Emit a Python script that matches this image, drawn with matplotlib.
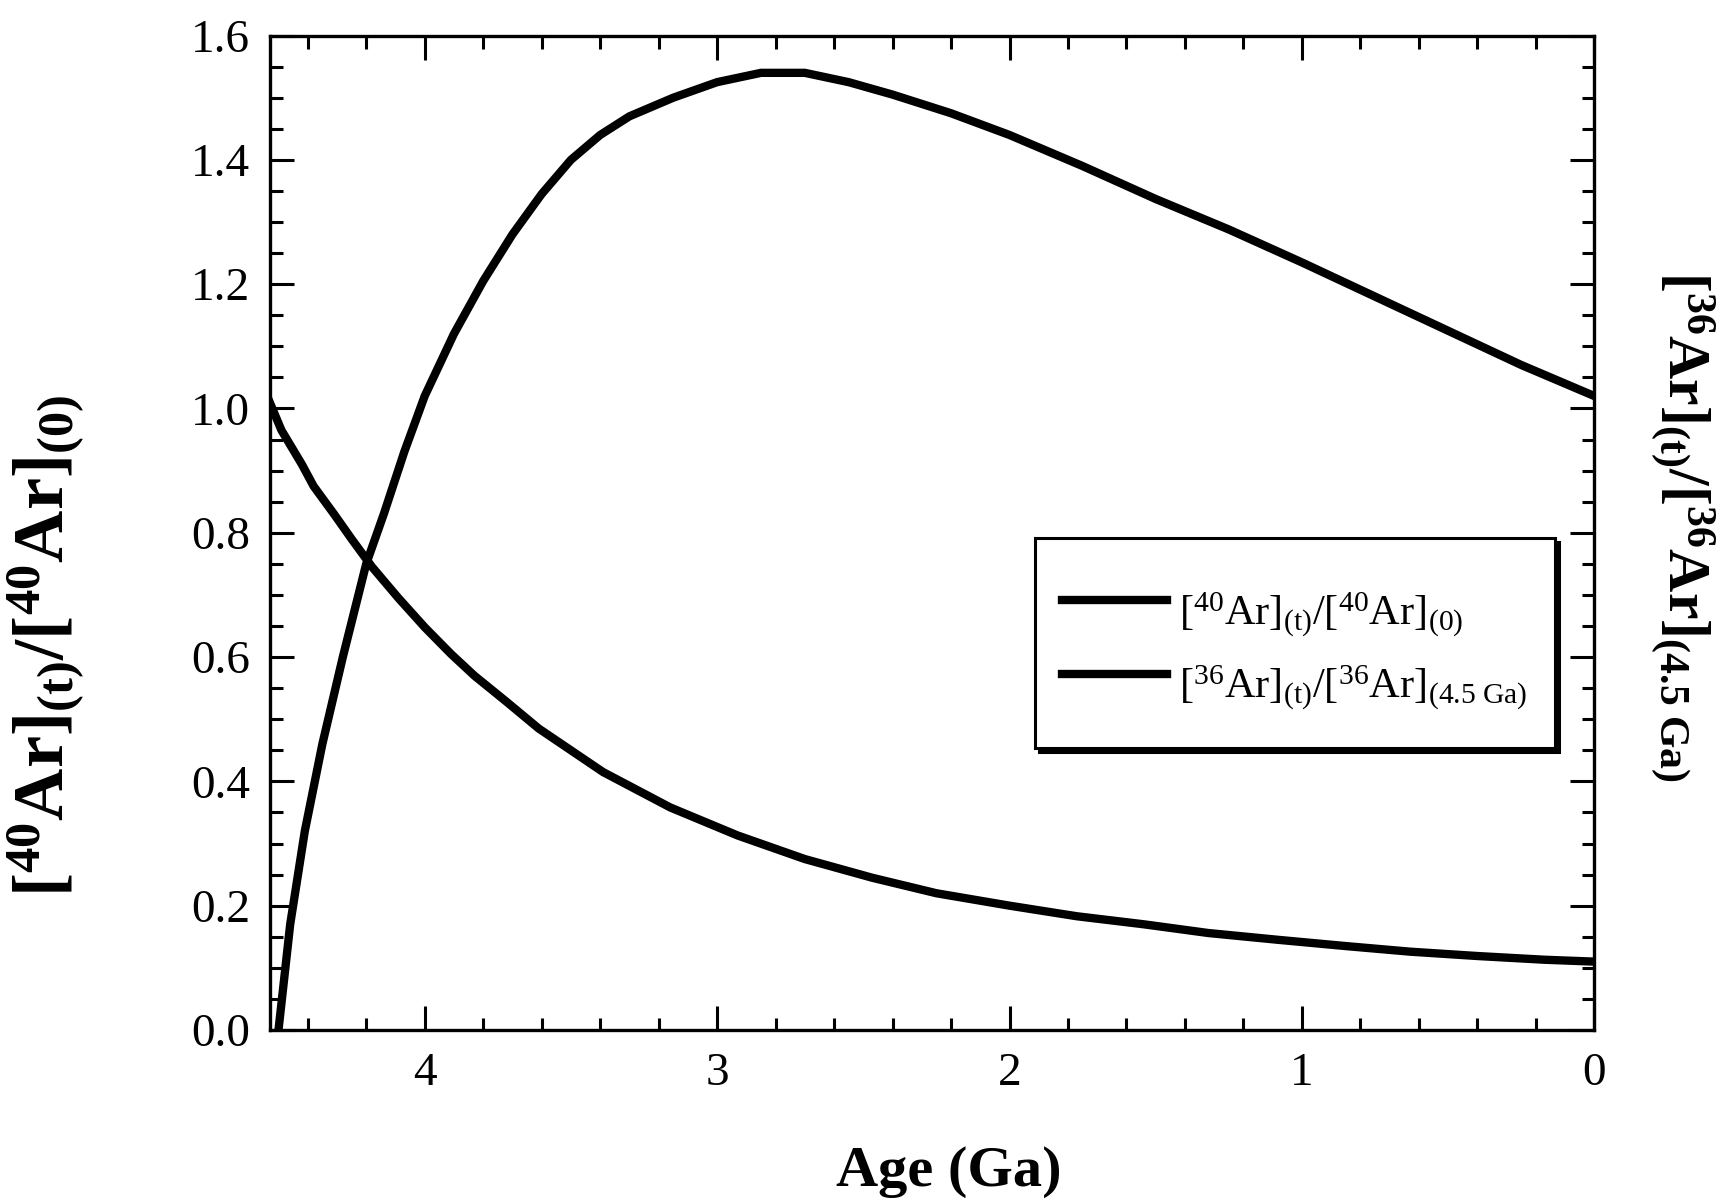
import matplotlib
matplotlib.use("Agg")
import matplotlib.pyplot as plt
from matplotlib.ticker import MultipleLocator

# ------------------------------------
# Data
# ------------------------------------

age_40 = [4.50, 4.46, 4.41, 4.35, 4.28, 4.20, 4.14, 4.07, 4.00, 3.90,
          3.80, 3.70, 3.60, 3.50, 3.40, 3.30, 3.15, 3.00, 2.85, 2.70,
          2.55, 2.40, 2.20, 2.00, 1.75, 1.50, 1.25, 1.00, 0.75, 0.50,
          0.25, 0.00]
ar40 = [0.00, 0.17, 0.32, 0.46, 0.60, 0.75, 0.83, 0.93, 1.02, 1.12,
        1.205, 1.28, 1.345, 1.40, 1.44, 1.47, 1.50, 1.525, 1.54, 1.54,
        1.525, 1.505, 1.475, 1.44, 1.39, 1.337, 1.288, 1.235, 1.18, 1.125,
        1.07, 1.02]

age_36 = [4.53, 4.49, 4.42, 4.38, 4.31, 4.25, 4.18, 4.09, 4.00, 3.91,
          3.83, 3.72, 3.61, 3.39, 3.16, 2.93, 2.70, 2.47, 2.25, 2.00,
          1.77, 1.54, 1.32, 1.08, 0.85, 0.63, 0.40, 0.17, 0.00]
ar36 = [1.01, 0.965, 0.91, 0.875, 0.83, 0.79, 0.745, 0.695, 0.648, 0.605,
        0.57, 0.528, 0.485, 0.415, 0.358, 0.313, 0.275, 0.245, 0.22, 0.20,
        0.183, 0.17, 0.156, 0.145, 0.135, 0.126, 0.119, 0.113, 0.11]

lab40 = r"$[^{40}\mathrm{Ar}]_{(\mathrm{t})}/[^{40}\mathrm{Ar}]_{(0)}$"
lab36 = r"$[^{36}\mathrm{Ar}]_{(\mathrm{t})}/[^{36}\mathrm{Ar}]_{(4.5\ \mathrm{Ga})}$"

# ------------------------------------
# Style
# ------------------------------------

plt.rcParams["font.family"] = ["Liberation Serif", "DejaVu Serif"]
plt.rcParams["mathtext.fontset"] = "custom"
plt.rcParams["mathtext.rm"] = "Liberation Serif"
plt.rcParams["mathtext.it"] = "Liberation Serif:italic"
plt.rcParams["mathtext.bf"] = "Liberation Serif:bold"

fig = plt.figure(figsize=(17.18, 12.01), dpi=100)
ax = fig.add_axes([0.157, 0.1424, 0.771, 0.828])

ax.plot(age_40, ar40, color="black", linewidth=6, label=lab40)
ax.plot(age_36, ar36, color="black", linewidth=6, label=lab36)

ax.set_xlim(4.53, 0)
ax.set_ylim(0, 1.6)

ax.xaxis.set_major_locator(MultipleLocator(1))
ax.xaxis.set_minor_locator(MultipleLocator(0.2))
ax.yaxis.set_major_locator(MultipleLocator(0.2))
ax.yaxis.set_minor_locator(MultipleLocator(0.05))
ax.yaxis.set_major_formatter(plt.FormatStrFormatter("%.1f"))
ax.xaxis.set_major_formatter(plt.FormatStrFormatter("%d"))

ax.tick_params(which="both", direction="in", top=True, right=True,
               width=2.2, labelsize=34)
ax.tick_params(which="major", length=17)
ax.tick_params(which="minor", length=9)
ax.tick_params(axis="x", which="major", pad=16)
ax.tick_params(axis="y", which="major", pad=14)

for s in ax.spines.values():
    s.set_linewidth(2.4)

fig.text(0.552, 0.024, "Age (Ga)", fontsize=42, fontweight="bold",
         ha="center", va="center")

fig.text(0.027, 0.462,
         r"$\mathbf{[^{40}Ar]_{(t)}/[^{40}Ar]_{(0)}}$",
         fontsize=52, rotation=90, ha="center", va="center")

fig.text(0.979, 0.562,
         r"$\mathbf{[^{36}Ar]_{(t)}/[^{36}Ar]_{(4.5\ Ga)}}$",
         fontsize=43, rotation=270, ha="center", va="center")

# blank tiny title only adds a bit of space above the first row
leg = ax.legend(loc="upper left",
                bbox_to_anchor=(0.6024, 0.552),
                bbox_transform=fig.transFigure,
                borderaxespad=0,
                fontsize=30.5,
                title=" ",
                title_fontsize=5.5,
                handlelength=2.46,
                handleheight=2.2,
                handletextpad=0.3,
                borderpad=0.65,
                labelspacing=0.06,
                fancybox=False,
                shadow={"ox": 3, "oy": -3, "facecolor": "black",
                        "edgecolor": "black", "alpha": 1})
leg.get_frame().set_edgecolor("black")
leg.get_frame().set_linewidth(2.2)
leg.get_frame().set_alpha(1)

fig.savefig("out.png", dpi=100)
